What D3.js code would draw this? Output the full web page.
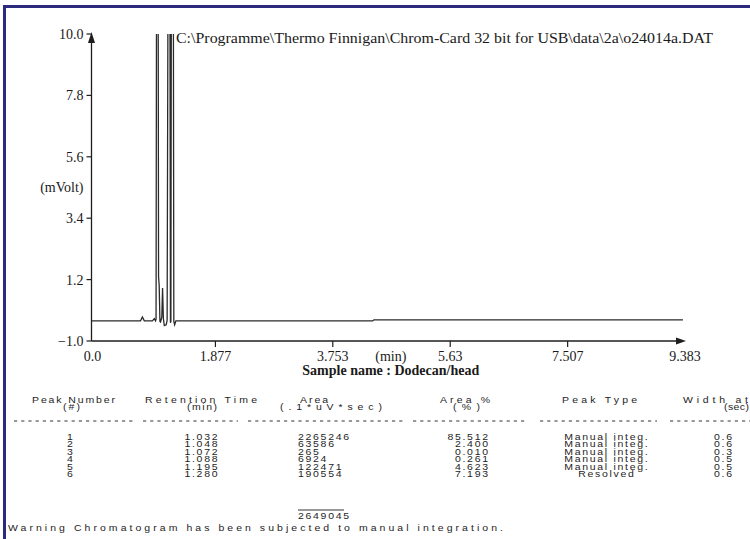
<!DOCTYPE html>
<html><head><meta charset="utf-8">
<script src="https://cdn.jsdelivr.net/npm/d3@7"></script>
<style>
html,body{margin:0;padding:0;background:#fff;}
svg{display:block;}
.serif{font-family:"Liberation Serif","Times New Roman",serif;fill:#1a1a1a;}
.tbl{font-family:"Liberation Sans",Arial,sans-serif;fill:#1e1e1e;}
</style></head><body>
<svg id="c" width="750" height="539"></svg>
<script>
// ---------- data ----------
const titleText = "C:\\Programme\\Thermo Finnigan\\Chrom-Card 32 bit for USB\\data\\2a\\o24014a.DAT";
const yTicks = [10.0, 7.8, 5.6, 3.4, 1.2, -1.0];
const xTicks = [1.877, 3.753, 5.63, 7.507, 9.383];
const xMax = 9.383;
const yUnit = "(mVolt)";
const xUnit = "(min)";
const sampleName = "Sample name : Dodecan/head";
// chromatogram trace (min, mV); peaks run off the top
const traceTime = [-0.1, 0.68, 0.71, 0.74, 0.87, 0.90, 0.92, 0.928, 0.935, 0.962, 0.968, 0.978, 0.99, 1.0, 1.02, 1.032, 1.045, 1.06, 1.09, 1.105, 1.118, 1.150, 1.158, 1.165, 1.172, 1.205, 1.212, 1.225, 1.245, 4.39, 4.41, 9.35];
const traceMv   = [-0.28, -0.28, -0.14, -0.28, -0.28, -0.2, -0.28, -0.22, 11, 11, 1.3, 1.0, -0.3, -0.32, -0.15, 0.9, -0.2, -0.45, -0.42, -0.25, 11, 11, -0.35, -0.3, 11, 11, -0.3, -0.42, -0.28, -0.28, -0.24, -0.24];
// peak table
const headers1 = ["Peak Number", "Retention Time", "Area", "Area %", "Peak Type", "Width at"];
const headers2 = ["(#)", "(min)", "(.1*uV*sec)", "(%)", "", "(sec)"];
const peakNumber = ["1", "2", "3", "4", "5", "6"];
const retentionTime = ["1.032", "1.048", "1.072", "1.088", "1.195", "1.280"];
const area = ["2265246", "63586", "265", "6924", "122471", "190554"];
const areaPct = ["85.512", "2.400", "0.010", "0.261", "4.623", "7.193"];
const peakType = ["Manual integ.", "Manual integ.", "Manual integ.", "Manual integ.", "Manual integ.", "Resolved"];
const widthSec = ["0.6", "0.6", "0.3", "0.5", "0.5", "0.6"];
const areaTotal = "2649045";
const warningText = "Warning Chromatogram has been subjected to manual integration.";

// ---------- drawing ----------
const svg = d3.select("#c");
const ink = "#1e1e1e";

// frame (scan border)
svg.append("line").attr("x1",3).attr("x2",750).attr("y1",6.5).attr("y2",6.5).attr("stroke","#2c2a7c").attr("stroke-width",3);
svg.append("line").attr("x1",4.5).attr("x2",4.5).attr("y1",5).attr("y2",539).attr("stroke","#2c2a7c").attr("stroke-width",3);

const x = d3.scaleLinear().domain([0, xMax]).range([98, 685]);
const y = d3.scaleLinear().domain([-1, 10]).range([341, 34]);
const axisX = 91.5;

svg.append("clipPath").attr("id","clip").append("rect")
  .attr("x", axisX).attr("y", y(10)).attr("width", 700).attr("height", y(-1)-y(10));

// trace
const pts = traceTime.map((t,i)=>[t, traceMv[i]]);
svg.append("path").datum(pts)
  .attr("clip-path","url(#clip)")
  .attr("fill","none").attr("stroke","#2a2a2a").attr("stroke-width",1.3)
  .attr("d", d3.line().x(d=>x(d[0])).y(d=>y(d[1])));

// y axis
const gy = svg.append("g");
gy.append("line").attr("x1",axisX).attr("x2",axisX).attr("y1",y(-1)).attr("y2",y(10)+6).attr("stroke",ink).attr("stroke-width",1.3);
gy.append("path").attr("d",`M${axisX},${y(10)-2} L${axisX-3.5},${y(10)+9} L${axisX+3.5},${y(10)+9}Z`).attr("fill",ink);
gy.selectAll("line.t").data(yTicks).join("line").attr("class","t")
  .attr("x1",axisX-5).attr("x2",axisX).attr("y1",d=>y(d)).attr("y2",d=>y(d)).attr("stroke",ink).attr("stroke-width",1.2);
gy.selectAll("text").data(yTicks).join("text").attr("class","serif")
  .attr("x",axisX-8).attr("y",d=>y(d)).attr("dy","0.35em").attr("text-anchor","end")
  .attr("font-size",14).text(d=>d3.format(".1f")(d));
svg.append("text").attr("class","serif").attr("x",axisX-8).attr("y",y(4.5)).attr("dy","0.35em")
  .attr("text-anchor","end").attr("font-size",14).text(yUnit);

// x axis
const gx = svg.append("g");
gx.append("line").attr("x1",axisX).attr("x2",x(xMax)-6).attr("y1",y(-1)).attr("y2",y(-1)).attr("stroke",ink).attr("stroke-width",1.3);
gx.append("path").attr("d",`M${x(xMax)+1},${y(-1)} L${x(xMax)-9},${y(-1)-3.5} L${x(xMax)-9},${y(-1)+3.5}Z`).attr("fill",ink);
gx.selectAll("line.t").data(xTicks.slice(0,-1)).join("line").attr("class","t")
  .attr("x1",d=>x(d)).attr("x2",d=>x(d)).attr("y1",y(-1)).attr("y2",y(-1)+6).attr("stroke",ink).attr("stroke-width",1.2);
const xLabels = [{v:null,s:"0.0"}].concat(xTicks.map(v=>({v:v,s:String(v)})));
gx.selectAll("text").data(xLabels).join("text").attr("class","serif")
  .attr("x",d=>d.v===null?axisX+1:x(d.v)).attr("y",y(-1)+20).attr("text-anchor","middle")
  .attr("font-size",14).text(d=>d.s);
svg.append("text").attr("class","serif").attr("x",x(4.68)).attr("y",y(-1)+20).attr("text-anchor","middle")
  .attr("font-size",14).text(xUnit);
svg.append("text").attr("class","serif").attr("x",x(4.68)).attr("y",y(-1)+34).attr("text-anchor","middle")
  .attr("font-size",14).attr("font-weight","bold").text(sampleName);

// title
svg.append("text").attr("class","serif").attr("x",176).attr("y",43).attr("font-size",14)
  .attr("textLength",537).attr("lengthAdjust","spacingAndGlyphs").text(titleText);

// ---------- peak table (printer font: short, wide glyphs) ----------
const sx = 1.22;                 // horizontal stretch of the printer font
const fs = 8.6, ls = 1.4;        // ls in unstretched units
const cols = [
  {x:32,  w:83,  h2x:63,  h2w:17,  vx:70,  va:"middle", dash:[14,133]},
  {x:145, w:112, h2x:187, h2w:30,  vx:201, va:"middle", dash:[143,238]},
  {x:300, w:28,  h2x:280, h2w:102, vx:298, va:"start",  dash:[248,403]},
  {x:440, w:50,  h2x:453, h2w:27,  vx:488, va:"end",    dash:[413,527]},
  {x:562, w:75,  h2x:null,h2w:0,   vx:606, va:"middle", dash:[540,657]},
  {x:683, w:65,  h2x:724, h2w:25,  vx:723, va:"middle", dash:[670,750]}
];
const tbl = svg.append("g").attr("class","tbl").attr("font-size",fs).attr("transform",`scale(${sx},1)`);
const X = v => v / sx;
function tx(xx, anchor){ return anchor==="middle" ? X(xx) + ls/2 : (anchor==="end" ? X(xx) + ls : X(xx)); }
cols.forEach((c,i)=>{
  tbl.append("text").attr("x",X(c.x)).attr("y",403).attr("textLength",X(c.w)).attr("lengthAdjust","spacing").text(headers1[i]);
  if (headers2[i]) tbl.append("text").attr("x",X(c.h2x)).attr("y",410.5).attr("textLength",X(c.h2w)).attr("lengthAdjust","spacing").text(headers2[i]);
  svg.append("line").attr("x1",c.dash[0]).attr("x2",c.dash[1]).attr("y1",421).attr("y2",421)
    .attr("stroke","#333").attr("stroke-width",1.1).attr("stroke-dasharray","3.2,4");
});
const colData = [peakNumber, retentionTime, area, areaPct, peakType, widthSec];
colData.forEach((arr,ci)=>{
  const c = cols[ci];
  tbl.selectAll(null).data(arr).join("text").attr("letter-spacing",ls)
    .attr("x",tx(c.vx,c.va)).attr("y",(d,i)=>440+i*7.5).attr("text-anchor",c.va).text(d=>d);
});
tbl.append("text").attr("letter-spacing",ls).attr("x",X(298)).attr("y",519).text(areaTotal);
svg.append("line").attr("x1",298).attr("x2",344).attr("y1",510).attr("y2",510).attr("stroke","#333").attr("stroke-width",1);
tbl.append("text").attr("x",X(8)).attr("y",531).attr("textLength",X(495)).attr("lengthAdjust","spacing").text(warningText);
</script>
</body></html>
